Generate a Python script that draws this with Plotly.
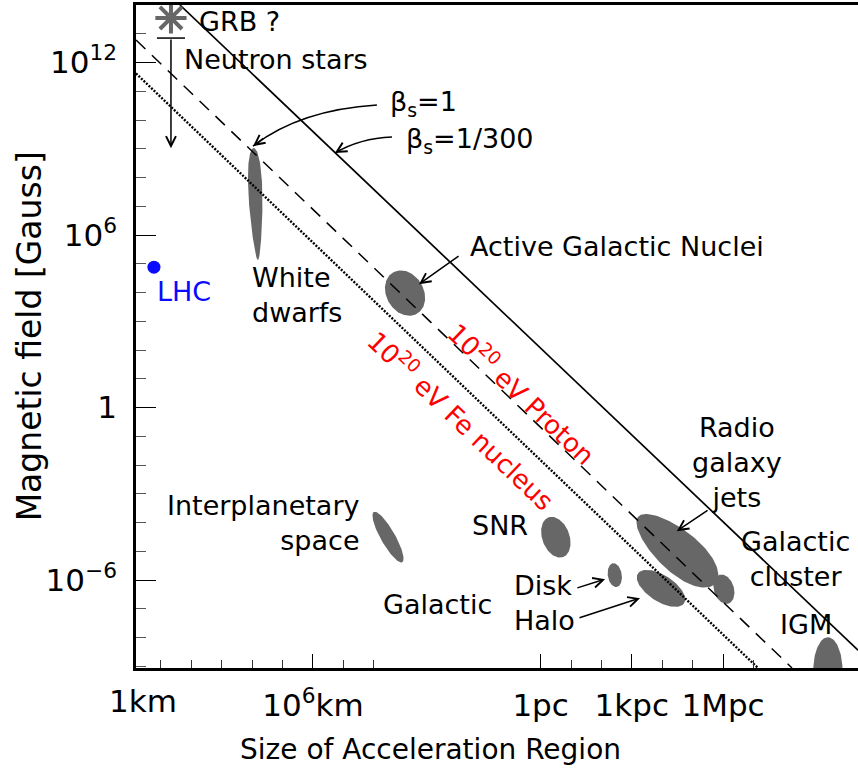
import numpy as np
import plotly.graph_objects as go

# ---------------- data (log10 of size in km, log10 of B in Gauss) ----------------
PC_KM = 3.0857e13

x_range_log = [0.18, 23.93]
y_range_log = [-9.06, 14.0]

x_tick_vals = [1e6, PC_KM, PC_KM * 1e3, PC_KM * 1e6]
x_tick_text = ["10<sup>6</sup>km", "1pc", "1kpc", "1Mpc"]
x_minor_exp = [1, 2, 3, 4, 5, 7, 8]
x_minor_pc_exp = [1, 2, 4, 5, 7]
y_tick_vals = [1e12, 1e6, 1, 1e-6]
y_tick_text = ["10<sup>12</sup>", "10<sup>6</sup>", "1", "10<sup>−6</sup>"]
y_minor_exp = [k for k in range(-9, 15) if k not in (12, 6, 0, -6)]

# Hillas lines: beta_s=1/300 proton (solid), beta_s=1 proton (dashed), beta_s=1 iron (dotted)
line_logR = [[1.625, 23.93], [0.18, 21.76], [0.18, 20.64]]
line_logB = [[14.0, -8.44], [12.78, -9.06], [11.62, -9.06]]
line_dash = ["solid", "13px,9px", "2px,1.5px"]
line_width = [1.7, 1.5, 2.4]

# source regions
region_names = ["White dwarfs", "AGN", "Interplanetary", "SNR", "Galactic disk",
                "Galactic halo", "Radio galaxy jets", "Galactic cluster", "IGM"]
region_logR = [4.12, 9.03, 8.47, 13.99, 15.93, 17.45, 17.97, 19.52, 22.94]
region_logB = [7.08, 3.98, -4.51, -4.51, -5.83, -6.29, -4.96, -6.32, -9.14]
region_major = [1.95, 0.82, 0.99, 0.73, 0.42, 0.92, 1.72, 0.52, 1.15]
region_minor = [0.22, 0.62, 0.24, 0.45, 0.23, 0.45, 0.70, 0.33, 0.48]
region_angle = [92, -65, -62, -72, -82, -35, -43, -75, 90]
region_taper = [0.35, 0.0, 0.0, 0.0, 0.0, 0.0, 0.12, 0.0, 0.0]

# LHC point and GRB / neutron stars
lhc_logR, lhc_logB = 0.77, 4.88
grb_logR, grb_logB = 1.33, 13.55
ns_logR, ns_top_logB, ns_bot_logB = 1.33, 12.85, 9.02

GRAY = "#676767"
BLUE = "#0a0aff"
FONT = "DejaVu Sans"
LABEL_SIZE = 27
TICK_SIZE = 31

fig = go.Figure()

# regions
for name, cx, cy, a, b, ang, k in zip(region_names, region_logR, region_logB,
                                      region_major, region_minor, region_angle, region_taper):
    t = np.linspace(0, 2 * np.pi, 121)
    u = a * np.cos(t)
    v = b * np.sin(t) * (1 + k * np.cos(t))
    th = np.deg2rad(ang)
    lx = cx + u * np.cos(th) - v * np.sin(th)
    ly = cy + u * np.sin(th) + v * np.cos(th)
    fig.add_trace(go.Scatter(x=10 ** lx, y=10 ** ly, mode="lines", fill="toself",
                             fillcolor=GRAY, line=dict(width=0, color=GRAY),
                             name=name, hoverinfo="name"))

# Hillas lines
for lr, lb, d, w in zip(line_logR, line_logB, line_dash, line_width):
    fig.add_trace(go.Scatter(x=[10 ** v for v in lr], y=[10 ** v for v in lb], mode="lines",
                             line=dict(color="black", width=w, dash=d)))

# LHC
fig.add_trace(go.Scatter(x=[10 ** lhc_logR], y=[10 ** lhc_logB], mode="markers",
                         marker=dict(color=BLUE, size=13)))
# GRB star
fig.add_trace(go.Scatter(x=[10 ** grb_logR], y=[10 ** grb_logB], mode="markers",
                         marker=dict(symbol="asterisk-open", size=26, color=GRAY,
                                     line=dict(color=GRAY, width=4))))
fig.add_trace(go.Scatter(x=[10 ** grb_logR], y=[10 ** grb_logB], mode="markers",
                         marker=dict(symbol="circle", size=10, color=GRAY)))
# neutron-star cap
fig.add_trace(go.Scatter(x=[10 ** ns_logR], y=[10 ** ns_top_logB], mode="markers",
                         marker=dict(symbol="line-ew-open", size=20, color="black",
                                     line=dict(color="black", width=1.5))))

# ---------------- annotations ----------------
ann = []


def label(text, L, B, xanchor="left", align="left", size=LABEL_SIZE, color="black", angle=0):
    ann.append(dict(x=L, y=B, xref="x", yref="y", text=text, showarrow=False,
                    xanchor=xanchor, yanchor="middle", align=align, textangle=angle,
                    font=dict(family=FONT, size=size, color=color)))


def arrow(tipL, tipB, tailL, tailB, head=5):
    ann.append(dict(x=tipL, y=tipB, ax=tailL, ay=tailB, xref="x", yref="y",
                    axref="x", ayref="y", text="", showarrow=True, arrowhead=head,
                    arrowsize=1.3, arrowwidth=1.5, arrowcolor="black"))


label("GRB ?", 2.18, 13.41)
label("Neutron stars", 1.69, 12.09)
label("β<sub>s</sub>=1", 8.47, 10.59)
label("β<sub>s</sub>=1/300", 8.99, 9.30)
label("Active Galactic Nuclei", 11.1, 5.61)
label("White<br>dwarfs", 3.93, 3.91)
label("LHC", 0.80, 4.05, color=BLUE)
label("Radio<br>galaxy<br>jets", 19.95, -1.90, xanchor="center", align="center")
label("Galactic<br>cluster", 21.86, -5.28, xanchor="center", align="center")
label("IGM", 22.23, -7.54, xanchor="center", align="center")
label("Interplanetary<br>space", 7.60, -4.02, xanchor="right", align="right")
label("SNR", 13.14, -4.09, xanchor="right")
label("Galactic", 11.97, -6.84, xanchor="right")
label("Disk<br>Halo", 12.55, -6.81)
label("10<sup>20</sup> eV Proton", 12.88, 0.50, xanchor="center", size=26,
      color="#ff0000", angle=43.6)
label("10<sup>20</sup> eV Fe nucleus", 10.90, -0.44, xanchor="center", size=26,
      color="#ff0000", angle=43.6)

# straight arrows
arrow(9.49, 4.29, 10.84, 5.30)      # AGN
arrow(17.97, -4.30, 19.03, -3.54)   # radio jets
arrow(15.61, -5.97, 14.65, -6.29)   # disk
arrow(16.76, -6.63, 14.72, -7.33)   # halo
arrow(ns_logR, ns_bot_logB, ns_logR, ns_top_logB)  # neutron stars

# curved arrows (quadratic Bezier: start, control, tip) in log coords
curves = [
    [(8.105, 10.52), (5.57, 10.35), (4.03, 9.09)],   # beta_s = 1
    [(8.60, 9.41), (7.55, 9.37), (6.72, 8.85)],      # beta_s = 1/300
]


def to_paper(L, B):
    px = (L - x_range_log[0]) / (x_range_log[1] - x_range_log[0])
    py = (B - y_range_log[0]) / (y_range_log[1] - y_range_log[0])
    return px, py


shapes = []
for (p0, c, p2) in curves:
    a0 = to_paper(*p0)
    ac = to_paper(*c)
    a2 = to_paper(*p2)
    shapes.append(dict(type="path", xref="paper", yref="paper",
                       path=f"M {a0[0]:.5f},{a0[1]:.5f} Q {ac[0]:.5f},{ac[1]:.5f} {a2[0]:.5f},{a2[1]:.5f}",
                       line=dict(color="black", width=1.5)))
    f = 0.25
    tail = (p2[0] + (c[0] - p2[0]) * f, p2[1] + (c[1] - p2[1]) * f)
    arrow(p2[0], p2[1], tail[0], tail[1])

# "1km" label at the axis start
ann.append(dict(x=0.0097, y=0, xref="paper", yref="paper", text="1km", showarrow=False,
                xanchor="center", yanchor="top", yshift=-13,
                font=dict(family=FONT, size=TICK_SIZE, color="black")))
# axis titles
ann.append(dict(x=(430 - 136) / 722, y=-0.123, xref="paper", yref="paper",
                text="Size of Acceleration Region", showarrow=False,
                xanchor="center", yanchor="middle",
                font=dict(family=FONT, size=28, color="black")))
ann.append(dict(x=-0.147, y=0.5, xref="paper", yref="paper",
                text="Magnetic field [Gauss]", showarrow=False, textangle=-90,
                xanchor="center", yanchor="middle",
                font=dict(family=FONT, size=33, color="black")))

fig.update_layout(
    width=858, height=776,
    margin=dict(l=136, r=0, t=5, b=108),
    paper_bgcolor="white", plot_bgcolor="white",
    showlegend=False,
    font=dict(family=FONT, color="black"),
    annotations=ann, shapes=shapes,
)

fig.update_xaxes(
    type="log", range=x_range_log,
    tickvals=x_tick_vals, ticktext=x_tick_text,
    ticks="inside", ticklen=14, tickwidth=1.3, tickcolor="black",
    tickfont=dict(family=FONT, size=TICK_SIZE, color="black"),
    ticklabelstandoff=8,
    minor=dict(tickvals=[10 ** k for k in x_minor_exp] + [PC_KM * 10 ** k for k in x_minor_pc_exp],
               ticks="inside", ticklen=8, tickwidth=1.2, tickcolor="#333333", showgrid=False),
    showline=True, linewidth=2.5, linecolor="black", mirror=True,
    showgrid=False, zeroline=False,
)

fig.update_yaxes(
    type="log", range=y_range_log,
    tickvals=y_tick_vals, ticktext=y_tick_text,
    ticks="inside", ticklen=20, tickwidth=1.3, tickcolor="black",
    tickfont=dict(family=FONT, size=TICK_SIZE, color="black"),
    ticklabelstandoff=10,
    minor=dict(tickvals=[10 ** k for k in y_minor_exp],
               ticks="inside", ticklen=10, tickwidth=1.2, tickcolor="#555555", showgrid=False),
    showline=True, linewidth=2.5, linecolor="black", mirror=False,
    showgrid=False, zeroline=False,
)

fig.write_html("out.html")
